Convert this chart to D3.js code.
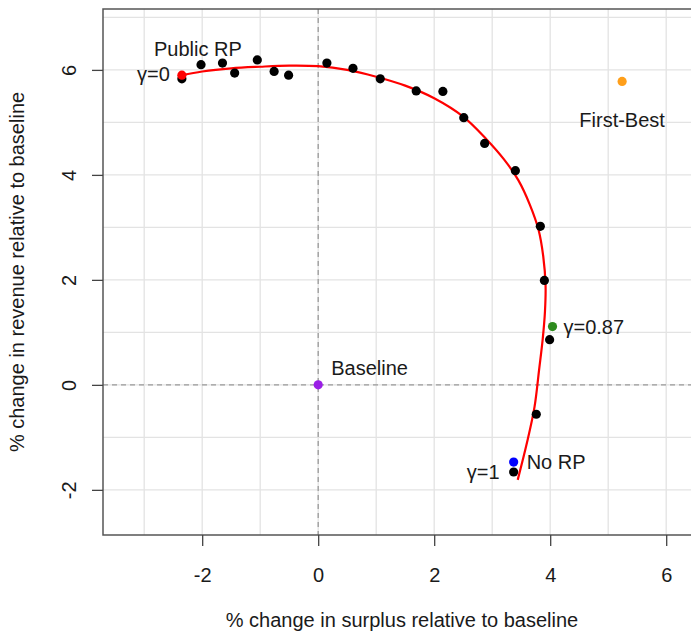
<!DOCTYPE html>
<html>
<head>
<meta charset="utf-8">
<script src="https://cdn.jsdelivr.net/npm/d3@7"></script>
<style>
  html, body { margin: 0; padding: 0; background: #fff; }
  svg { display: block; }
  text { font-family: "Liberation Sans", Arial, Helvetica, sans-serif; fill: #1a1a1a; }
</style>
</head>
<body>
<svg id="chart" width="691" height="631"></svg>
<script>
// Simulated outcomes for intermediate gamma values (surplus %, revenue %)
const simSurplus = [-2.35, -2.02, -1.65, -1.44, -1.05, -0.76, -0.51, 0.15, 0.60, 1.07, 1.69, 2.15, 2.51, 2.87, 3.40, 3.83, 3.90, 3.99, 3.76, 3.37];
const simRevenue = [5.83, 6.10, 6.13, 5.94, 6.19, 5.97, 5.90, 6.13, 6.03, 5.83, 5.60, 5.59, 5.09, 4.60, 4.08, 3.02, 1.99, 0.86, -0.56, -1.66];

// Smoothed frontier through the simulated outcomes
const frontierSurplus = [-2.35, -2.00, -1.50, -1.00, -0.50, 0.00, 0.50, 1.00, 1.50, 2.00, 2.50, 2.90, 3.20, 3.45, 3.65, 3.80, 3.88, 3.92, 3.91, 3.87, 3.81, 3.73, 3.60, 3.44];
const frontierRevenue = [5.90, 5.97, 6.03, 6.06, 6.08, 6.07, 6.00, 5.87, 5.70, 5.46, 5.11, 4.68, 4.30, 3.90, 3.43, 2.95, 2.45, 1.90, 1.40, 0.86, 0.30, -0.42, -1.10, -1.81];

// Highlighted scenarios
const keyNames   = ["Public RP", "First-Best", "Baseline", "gamma087", "No RP"];
const keySurplus = [-2.35, 5.24, 0.00, 4.04, 3.37];
const keyRevenue = [5.90, 5.78, 0.00, 1.11, -1.47];
const keyColors  = ["#ff0000", "#ff9f1a", "#9a1ee6", "#2e8b1e", "#0000ff"];

const xTicks = [-2, 0, 2, 4, 6];
const yTicks = [-2, 0, 2, 4, 6];
const xGrid = [-3, -2, -1, 0, 1, 2, 3, 4, 5, 6];
const yGrid = [-2, -1, 0, 1, 2, 3, 4, 5, 6, 7];

const xTitle = "% change in surplus relative to baseline";
const yTitle = "% change in revenue relative to baseline";

const svg = d3.select("#chart");
const L = 103, R = 701, T = 9, B = 535;
const FS = 20;
const fmt = d => String(d);

const x = d3.scaleLinear().domain([-3.71, 6.60]).range([L, R]);
const y = d3.scaleLinear().domain([-2.86, 7.16]).range([B, T]);

// grid
const grid = svg.append("g");
grid.selectAll("line.gx").data(xGrid).join("line")
  .attr("x1", d => x(d)).attr("x2", d => x(d)).attr("y1", T).attr("y2", B)
  .attr("stroke", "#e3e3e3").attr("stroke-width", 1.3);
grid.selectAll("line.gy").data(yGrid).join("line")
  .attr("x1", L).attr("x2", R).attr("y1", d => y(d)).attr("y2", d => y(d))
  .attr("stroke", "#e3e3e3").attr("stroke-width", 1.3);

// zero reference lines
svg.append("line").attr("x1", x(0)).attr("x2", x(0)).attr("y1", T).attr("y2", B)
  .attr("stroke", "#9a9a9a").attr("stroke-width", 1.3).attr("stroke-dasharray", "5,4");
svg.append("line").attr("x1", L).attr("x2", R).attr("y1", y(0)).attr("y2", y(0))
  .attr("stroke", "#9a9a9a").attr("stroke-width", 1.3).attr("stroke-dasharray", "5,4");

// plot frame
svg.append("rect").attr("x", L).attr("y", T).attr("width", R - L).attr("height", B - T)
  .attr("fill", "none").attr("stroke", "#555").attr("stroke-width", 1.5);

// axes
const xAxis = svg.append("g").attr("transform", `translate(0,${B})`)
  .call(d3.axisBottom(x).tickValues(xTicks).tickSize(11).tickPadding(0).tickFormat(fmt));
xAxis.select(".domain").remove();
xAxis.selectAll("line").attr("stroke", "#444").attr("stroke-width", 1.3);
xAxis.selectAll("text").attr("y", 47).attr("dy", null).style("font-size", FS + "px")
  .style("font-family", "'Liberation Sans', Arial, sans-serif").attr("fill", "#1a1a1a");

const yAxis = svg.append("g").attr("transform", `translate(${L},0)`)
  .call(d3.axisLeft(y).tickValues(yTicks).tickSize(11).tickFormat(fmt));
yAxis.select(".domain").remove();
yAxis.selectAll("line").attr("stroke", "#444").attr("stroke-width", 1.3);
yAxis.selectAll("text")
  .attr("x", null).attr("dy", null)
  .attr("text-anchor", "middle")
  .attr("transform", "translate(-27,0) rotate(-90)")
  .style("font-size", FS + "px")
  .style("font-family", "'Liberation Sans', Arial, sans-serif").attr("fill", "#1a1a1a");

// axis titles
svg.append("text").attr("x", (L + R) / 2).attr("y", 627).attr("text-anchor", "middle")
  .style("font-size", FS + "px").text(xTitle);
svg.append("text").attr("transform", `translate(24,${(T + B) / 2}) rotate(-90)`)
  .attr("text-anchor", "middle").style("font-size", FS + "px").text(yTitle);

// frontier
const line = d3.line().x(d => x(d[0])).y(d => y(d[1])).curve(d3.curveCatmullRom.alpha(0.5));
svg.append("path").datum(frontierSurplus.map((s, i) => [s, frontierRevenue[i]]))
  .attr("d", line).attr("fill", "none").attr("stroke", "#ff0000").attr("stroke-width", 2.2);

// simulated points
svg.append("g").selectAll("circle").data(simSurplus.map((s, i) => [s, simRevenue[i]])).join("circle")
  .attr("cx", d => x(d[0])).attr("cy", d => y(d[1])).attr("r", 4.6).attr("fill", "#000");

// key scenarios
svg.append("g").selectAll("circle").data(keySurplus.map((s, i) => [s, keyRevenue[i], keyColors[i]])).join("circle")
  .attr("cx", d => x(d[0])).attr("cy", d => y(d[1])).attr("r", 4.6).attr("fill", d => d[2]);

// annotations
const notes = [
  { t: "Public RP",  sx: keySurplus[0], sy: keyRevenue[0], dx: 16,  dy: -19, a: "middle" },
  { t: "γ=0",        sx: keySurplus[0], sy: keyRevenue[0], dx: -12, dy: 6,   a: "end" },
  { t: "First-Best", sx: keySurplus[1], sy: keyRevenue[1], dx: 0,   dy: 46,  a: "middle" },
  { t: "Baseline",   sx: keySurplus[2], sy: keyRevenue[2], dx: 13,  dy: -10, a: "start" },
  { t: "γ=0.87",     sx: keySurplus[3], sy: keyRevenue[3], dx: 11,  dy: 7,   a: "start" },
  { t: "No RP",      sx: keySurplus[4], sy: keyRevenue[4], dx: 13,  dy: 7,   a: "start" },
  { t: "γ=1",        sx: simSurplus[19], sy: simRevenue[19], dx: -14, dy: 7, a: "end" }
];
svg.append("g").selectAll("text").data(notes).join("text")
  .attr("x", d => x(d.sx) + d.dx).attr("y", d => y(d.sy) + d.dy)
  .attr("text-anchor", d => d.a).style("font-size", FS + "px").text(d => d.t);
</script>
</body>
</html>
